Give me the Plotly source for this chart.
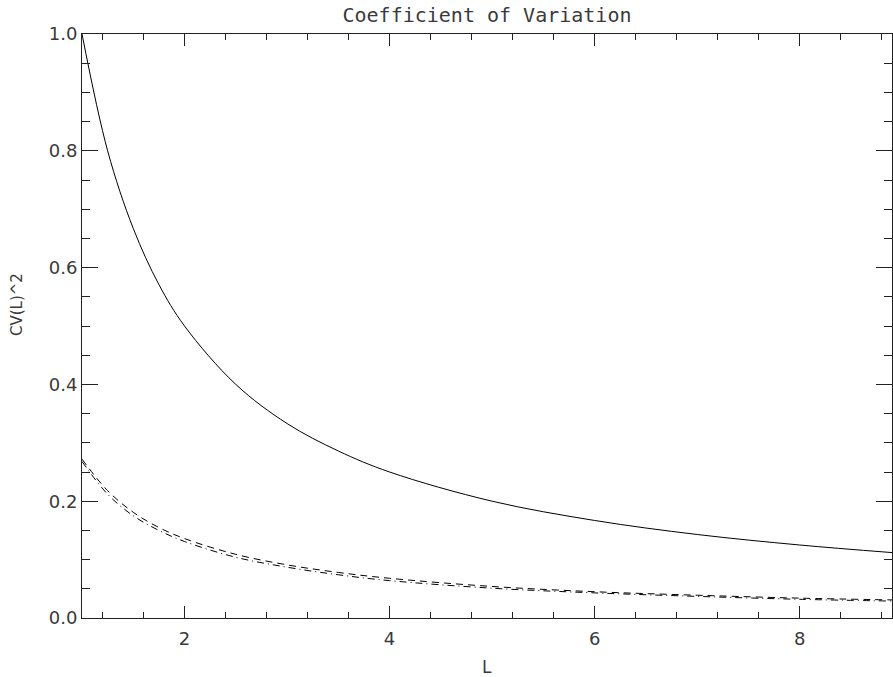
import plotly.graph_objects as go

# Values
L_values = [1.0, 1.25, 1.5, 1.75, 2.0, 2.5, 3.0, 3.5, 4.0, 5.0, 6.0, 7.0, 8.0, 8.9]
cv_solid = [1.0, 0.80, 0.667, 0.571, 0.50, 0.40, 0.333, 0.286, 0.25, 0.20, 0.167, 0.143, 0.125, 0.112]
cv_dashed = [0.272, 0.218, 0.181, 0.155, 0.136, 0.109, 0.091, 0.078, 0.068, 0.054, 0.045, 0.039, 0.034, 0.031]
cv_dashdot = [0.268, 0.212, 0.175, 0.150, 0.131, 0.104, 0.087, 0.074, 0.064, 0.051, 0.043, 0.037, 0.032, 0.029]

title_text = "Coefficient of Variation"
x_label = "L"
y_label = "CV(L)^2"

MONO = "DejaVu Sans Mono"
SANS = "DejaVu Sans"
TXT = "#3a3a3a"

fig = go.Figure()
fig.add_trace(go.Scatter(x=L_values, y=cv_solid, mode="lines",
                         line=dict(color="black", width=1, shape="spline")))
fig.add_trace(go.Scatter(x=L_values, y=cv_dashed, mode="lines",
                         line=dict(color="black", width=1, shape="spline", dash="7px,5px")))
fig.add_trace(go.Scatter(x=L_values, y=cv_dashdot, mode="lines",
                         line=dict(color="black", width=1, shape="spline", dash="7px,4px,1px,4px")))

fig.update_layout(
    width=893, height=677,
    margin=dict(l=82, r=1, t=34, b=59),
    paper_bgcolor="white", plot_bgcolor="white",
    showlegend=False,
    font=dict(family=SANS, size=17, color=TXT),
    title=dict(text=title_text, x=0.5, xref="paper", xanchor="center",
               y=1 - 15 / 677, yref="container", yanchor="middle",
               font=dict(family=MONO, size=20, color=TXT)),
    annotations=[
        dict(text=x_label, xref="paper", yref="paper", x=0.5, y=-49 / 584,
             xanchor="center", yanchor="middle", showarrow=False,
             font=dict(family=SANS, size=17, color=TXT)),
        dict(text=y_label, xref="paper", yref="paper", x=-65 / 810, y=0.5 + 21 / 584,
             xanchor="center", yanchor="middle", showarrow=False, textangle=-90,
             font=dict(family=SANS, size=15, color=TXT)),
    ],
)

fig.update_xaxes(range=[1, 8.9], tick0=0, dtick=2, ticks="inside", ticklen=12,
                 tickcolor="#222", showline=True, linecolor="#222", linewidth=1,
                 mirror="ticks", showgrid=False, zeroline=False,
                 ticklabelstandoff=4,
                 tickfont=dict(family=SANS, size=18, color=TXT),
                 minor=dict(dtick=0.4, tick0=0, ticks="inside", ticklen=6,
                            tickcolor="#222", showgrid=False))
fig.update_yaxes(range=[0, 1.0], tick0=0, dtick=0.2, tickformat=".1f",
                 ticks="inside", ticklen=16,
                 tickcolor="#222", showline=True, linecolor="#222", linewidth=1,
                 mirror="ticks", showgrid=False, zeroline=False,
                 tickfont=dict(family=SANS, size=18, color=TXT),
                 minor=dict(dtick=0.05, tick0=0, ticks="inside", ticklen=8,
                            tickcolor="#222", showgrid=False))

fig.write_html("out.html")
